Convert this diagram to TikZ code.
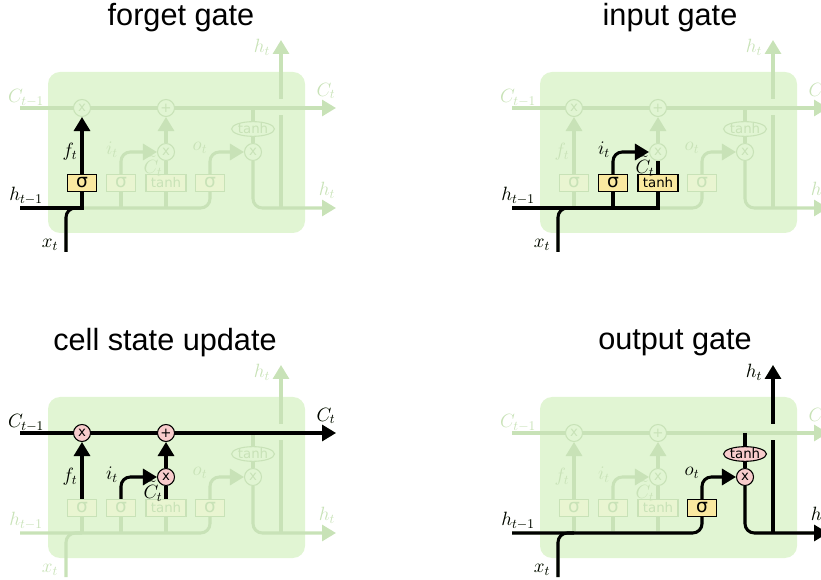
\documentclass[tikz,border=0pt]{standalone}
\usepackage{fontspec}
\usetikzlibrary{arrows.meta, shapes.geometric}

\newfontfamily\titlefont{Liberation Sans}
\newfontfamily\gatefont{DejaVu Sans}

\definecolor{cellfill}{RGB}{225,245,211}
\definecolor{fadeline}{RGB}{200,226,183}
\definecolor{fadegate}{RGB}{233,245,209}
\definecolor{gateyellow}{RGB}{250,233,160}
\definecolor{oppink}{RGB}{248,204,204}

\begin{document}
\begin{tikzpicture}[x=0.75pt, y=-0.75pt,
  >={Triangle[length=10.5pt, width=12pt]},
  fade/.style={draw=fadeline, line width=2.3pt},
  bold/.style={draw=black, line width=2.3pt},
  gatebox/.style={rectangle, draw, line width=0.8pt, minimum width=21.75pt,
    minimum height=12.75pt, inner sep=0pt, font=\gatefont\fontsize{14}{14}\selectfont},
  tanhbox/.style={gatebox, minimum width=30pt, font=\gatefont\fontsize{10}{10}\selectfont},
  op/.style={circle, draw, line width=0.8pt, minimum size=12.75pt, inner sep=0pt,
    font=\gatefont\fontsize{10}{10}\selectfont},
  opell/.style={ellipse, draw, line width=0.8pt, minimum width=29pt, minimum height=11pt,
    inner sep=0pt, font=\gatefont\fontsize{10}{10}\selectfont},
  off/.style={draw=fadeline, text=fadeline},
  lbl/.style={inner sep=0.5pt, font=\fontsize{14}{16}\selectfont},
  title/.style={font=\titlefont\fontsize{23}{26}\selectfont}]
\useasboundingbox (0,0) rectangle (821,580);

% the whole cell, greyed out, once per panel
\foreach \p/\dx/\dy in {1/0/0, 2/492/0, 3/0/325, 4/492/325} {
  \begin{scope}[shift={(\dx,\dy)}]
    \fill[cellfill, rounded corners=9pt] (48,72) rectangle (305,233);
    \coordinate (cin\p) at (20,108);
    \coordinate (cout\p) at (336,108);
    \coordinate (hin\p) at (20,208);
    \coordinate (hout\p) at (336,208);
    \coordinate (xin\p) at (66,252);
    \coordinate (hbot\p) at (281,208);
    \coordinate (hlow\p) at (281,115);
    \coordinate (hhigh\p) at (281,99);
    \coordinate (hup\p) at (281,40);
    \draw[fade, ->] (cin\p) -- (cout\p);
    \draw[fade] (hbot\p) -- (hlow\p);
    \draw[fade, ->] (hhigh\p) -- (hup\p);
    \node[op, off, fill=cellfill] (fx\p) at (82,108) {x};
    \node[op, off, fill=cellfill] (add\p) at (166,108) {+};
    \node[op, off, fill=cellfill] (ix\p) at (166,152) {x};
    \node[op, off, fill=cellfill] (ox\p) at (253,152) {x};
    \node[opell, off, fill=cellfill] (th\p) at (253,129) {tanh};
    \node[gatebox, off, fill=fadegate] (fg\p) at (82,183) {σ};
    \node[gatebox, off, fill=fadegate] (ig\p) at (121,183) {σ};
    \node[tanhbox, off, fill=fadegate] (cg\p) at (166,183) {tanh};
    \node[gatebox, off, fill=fadegate] (og\p) at (210,183) {σ};
    \draw[fade, rounded corners=7pt] (hin\p) -| (og\p.south);
    \draw[fade, rounded corners=7pt] (xin\p) |- (fg\p.south |- hin\p);
    \foreach \g in {fg,ig,cg}
      \draw[fade] (\g\p.south) -- (\g\p.south |- hin\p);
    \draw[fade, ->] (fg\p.north) -- (fx\p.south);
    \draw[fade, ->, rounded corners=7pt] (ig\p.north) |- (ix\p.west);
    \draw[fade] (cg\p.north) -- (ix\p.south);
    \draw[fade, ->] (ix\p.north) -- (add\p.south);
    \draw[fade, ->, rounded corners=7pt] (og\p.north) |- (ox\p.west);
    \draw[fade] (fx\p -| th\p) -- (th\p.north);
    \draw[fade] (th\p.south) -- (ox\p.north);
    \draw[fade, ->, rounded corners=7pt] (ox\p.south) |- (hout\p);
    \node[lbl, text=fadeline] (lcp\p) at (26,98) {$C_{t-1}$};
    \node[lbl, text=fadeline] (lcn\p) at (326,91) {$C_t$};
    \node[lbl, text=fadeline] (lhp\p) at (26,196) {$h_{t-1}$};
    \node[lbl, text=fadeline] (lhn\p) at (327,190) {$h_t$};
    \node[lbl, text=fadeline] (lhu\p) at (262,47) {$h_t$};
    \node[lbl, text=fadeline] (lx\p) at (50,245) {$x_t$};
    \node[lbl, text=fadeline] (lf\p) at (70,152) {$f_t$};
    \node[lbl, text=fadeline] (li\p) at (112,150) {$i_t$};
    \node[lbl, text=fadeline] (lc\p) at (153,166) {$\tilde{C}_t$};
    \node[lbl, text=fadeline] (lo\p) at (200,148) {$o_t$};
  \end{scope}
}

% forget gate
\node[title] (tforget) at (181,18) {forget gate};
\draw[bold] (hin1) -| (fg1.south);
\draw[bold, rounded corners=7pt] (xin1) |- (fg1.south |- hin1);
\node[gatebox, fill=gateyellow] (fgon) at (fg1) {σ};
\draw[bold, ->] (fgon.north) -- (fx1.south);
\node[lbl] (lfon) at (lf1) {$f_t$};
\node[lbl] (lhpon1) at (lhp1) {$h_{t-1}$};
\node[lbl] (lxon1) at (lx1) {$x_t$};

% input gate
\node[title] (tinput) at (670,18) {input gate};
\draw[bold] (hin2) -| (cg2.south);
\draw[bold] (ig2.south) -- (ig2.south |- hin2);
\draw[bold, rounded corners=7pt] (xin2) |- (fg2.south |- hin2);
\node[gatebox, fill=gateyellow] (igon) at (ig2) {σ};
\node[tanhbox, fill=gateyellow] (cgon) at (cg2) {tanh};
\draw[bold, ->, rounded corners=7pt] (igon.north) |- (ix2.west);
\draw[bold] (cgon.north) -- (ix2.south);
\node[lbl] (lion) at (li2) {$i_t$};
\node[lbl] (lcon) at (lc2) {$\tilde{C}_t$};
\node[lbl] (lhpon2) at (lhp2) {$h_{t-1}$};
\node[lbl] (lxon2) at (lx2) {$x_t$};

% cell state update
\node[title] (tcell) at (165,343) {cell state update};
\draw[bold, ->] (cin3) -- (cout3);
\node[op, fill=oppink] (fxon) at (fx3) {x};
\node[op, fill=oppink] (addon) at (add3) {+};
\node[op, fill=oppink] (ixon) at (ix3) {x};
\draw[bold, ->] (fg3.north) -- (fxon.south);
\draw[bold, ->, rounded corners=7pt] (ig3.north) |- (ixon.west);
\draw[bold] (cg3.north) -- (ixon.south);
\draw[bold, ->] (ixon.north) -- (addon.south);
\node[lbl] (lcpon) at (lcp3) {$C_{t-1}$};
\node[lbl] (lcnon) at (lcn3) {$C_t$};
\node[lbl] (lfon3) at (lf3) {$f_t$};
\node[lbl] (lion3) at (li3) {$i_t$};
\node[lbl] (lcon3) at (lc3) {$\tilde{C}_t$};

% output gate
\node[title] (toutput) at (675,343) {output gate};
\draw[bold, rounded corners=7pt] (hin4) -| (og4.south);
\draw[bold, rounded corners=7pt] (xin4) |- (fg4.south |- hin4);
\draw[bold] (hbot4) -- (hlow4);
\draw[bold, ->] (hhigh4) -- (hup4);
\node[gatebox, fill=gateyellow] (ogon) at (og4) {σ};
\node[opell, fill=oppink] (thon) at (th4) {tanh};
\node[op, fill=oppink] (oxon) at (ox4) {x};
\draw[bold, ->, rounded corners=7pt] (ogon.north) |- (oxon.west);
\draw[bold] (fx4 -| thon) -- (thon.north);
\draw[bold] (thon.south) -- (oxon.north);
\draw[bold, ->, rounded corners=7pt] (oxon.south) |- (hout4);
\node[lbl] (lhpon4) at (lhp4) {$h_{t-1}$};
\node[lbl] (lxon4) at (lx4) {$x_t$};
\node[lbl] (loon) at (lo4) {$o_t$};
\node[lbl] (lhuon) at (lhu4) {$h_t$};
\node[lbl] (lhnon) at (lhn4) {$h_t$};
\end{tikzpicture}
\end{document}
